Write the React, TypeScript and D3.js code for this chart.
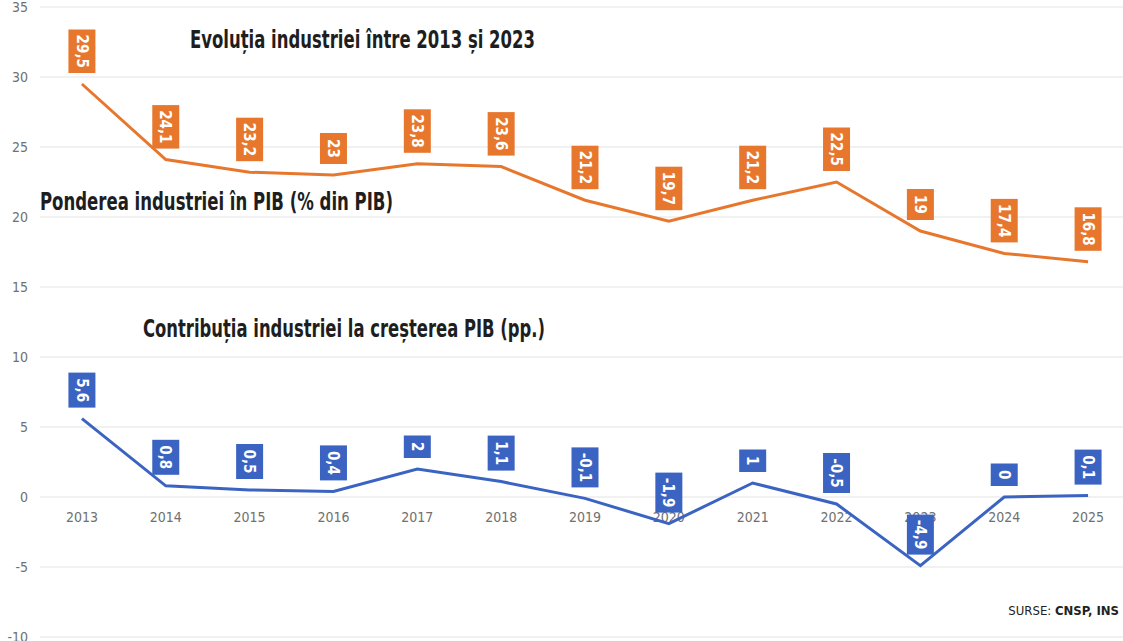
import React from 'react';
import * as d3 from 'd3';

const years = ['2013', '2014', '2015', '2016', '2017', '2018', '2019', '2020', '2021', '2022', '2023', '2024', '2025'];
const shareOfGdp = [29.5, 24.1, 23.2, 23, 23.8, 23.6, 21.2, 19.7, 21.2, 22.5, 19, 17.4, 16.8];
const growthContribution = [5.6, 0.8, 0.5, 0.4, 2, 1.1, -0.1, -1.9, 1, -0.5, -4.9, 0, 0.1];
const yTicks = [35, 30, 25, 20, 15, 10, 5, 0, -5, -10];

const W = 1123;
const H = 641;
const ORANGE = '#e8772e';
const BLUE = '#3b64c2';
const FONT = '"Liberation Sans Narrow", "DejaVu Sans Condensed", "Roboto", sans-serif';

const fmt = (v: number) => String(v).replace('.', ',');

// rough width of rotated label text, used for box height
const textLen = (s: string) =>
  s.split('').reduce((acc, c) => acc + (c === ',' ? 4 : c === '-' ? 5 : 8.5), 0);

const Labels: React.FC<{ values: number[]; color: string; x: d3.ScalePoint<string>; y: d3.ScaleLinear<number, number> }> = ({ values, color, x, y }) => (
  <g>
    {values.map((v, i) => {
      const label = fmt(v);
      const h = textLen(label) + 14;
      const w = 27;
      const cx = x(years[i])!;
      const bottom = y(v) - 11;
      const cy = bottom - h / 2;
      return (
        <g key={i}>
          <rect x={cx - w / 2} y={bottom - h} width={w} height={h} fill={color} />
          <text
            transform={`translate(${cx},${cy}) rotate(90)`}
            textAnchor="middle"
            dy="0.36em"
            fill="#fff"
            fontWeight="bold"
            fontSize={15}
            fontFamily={FONT}
          >
            {label}
          </text>
        </g>
      );
    })}
  </g>
);

const App: React.FC = () => {
  const x = d3.scalePoint<string>().domain(years).range([40, 1130]).padding(0.5);
  const y = d3.scaleLinear().domain([-10, 35]).range([637, 7]);

  const line = d3
    .line<number>()
    .x((_, i) => x(years[i])!)
    .y(d => y(d));

  return (
    <svg width={W} height={H} style={{ position: 'absolute', left: 0, top: 0, background: '#fff' }}>
      <rect width={W} height={H} fill="#fff" />
      {/* grid + y ticks */}
      {yTicks.map(t => (
        <g key={t}>
          <line x1={40} x2={W} y1={y(t)} y2={y(t)} stroke="#e3e3e3" strokeWidth={1.2} />
          <text x={28} y={y(t)} dy="0.35em" textAnchor="end" fill="#707070" fontSize={14} fontFamily={FONT}>
            {t}
          </text>
        </g>
      ))}

      {/* year labels */}
      {years.map(yr => (
        <text key={yr} x={x(yr)} y={522} textAnchor="middle" fill="#707070" fontSize={14} fontFamily={FONT}>
          {yr}
        </text>
      ))}

      {/* headings */}
      <text x={190} y={48} fontSize={25} fontWeight="bold" fill="#1e1e1e" fontFamily={FONT} textLength={345} lengthAdjust="spacingAndGlyphs">
        Evoluția industriei între 2013 și 2023
      </text>
      <text x={40} y={210} fontSize={25} fontWeight="bold" fill="#1e1e1e" fontFamily={FONT} textLength={353} lengthAdjust="spacingAndGlyphs">
        Ponderea industriei în PIB (% din PIB)
      </text>
      <text x={143} y={337} fontSize={25} fontWeight="bold" fill="#1e1e1e" fontFamily={FONT} textLength={402} lengthAdjust="spacingAndGlyphs">
        Contribuția industriei la creșterea PIB (pp.)
      </text>

      {/* lines */}
      <path d={line(shareOfGdp) ?? ''} fill="none" stroke={ORANGE} strokeWidth={3} />
      <path d={line(growthContribution) ?? ''} fill="none" stroke={BLUE} strokeWidth={3} />

      <Labels values={shareOfGdp} color={ORANGE} x={x} y={y} />
      <Labels values={growthContribution} color={BLUE} x={x} y={y} />

      {/* source */}
      <text x={1119} y={615} textAnchor="end" fontSize={13} fill="#222" fontFamily={FONT}>
        SURSE: <tspan fontWeight="bold">CNSP, INS</tspan>
      </text>
    </svg>
  );
};

export default App;
